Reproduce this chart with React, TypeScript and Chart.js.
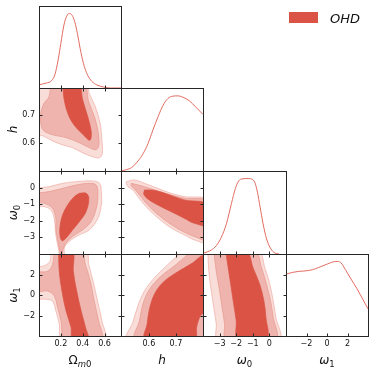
import React, { useEffect, useRef } from 'react';
import { Chart, registerables } from 'chart.js';

Chart.register(...registerables);

type Pt = [number, number];

// ---------- axes ----------
const OM_RANGE = [0, 0.75];
const H_RANGE = [0.497, 0.8];
const W0_RANGE = [-4, 1];
const W1_RANGE = [-4, 4];
const DENSITY_RANGE = [0, 1.1];

const OM_TICKS = [0.2, 0.4, 0.6];
const H_TICKS = [0.6, 0.7];
const W0_TICKS = [-3, -2, -1, 0];
const W1_TICKS = [-2, 0, 2];

const LEGEND_LABEL = 'OHD';

// ---------- 1D marginals (normalised density) ----------
const OM_1D: Pt[] = [[0.0, 0.044], [0.068, 0.067], [0.114, 0.097], [0.145, 0.177], [0.175, 0.377], [0.2, 0.6], [0.228, 0.844], [0.253, 0.964], [0.277, 1.0], [0.302, 0.977], [0.327, 0.888], [0.351, 0.733], [0.376, 0.533], [0.406, 0.333], [0.443, 0.177], [0.484, 0.088], [0.53, 0.04], [0.591, 0.013], [0.653, 0.0], [0.75, 0.0]];
const H_1D: Pt[] = [[0.497, 0.0], [0.518, 0.019], [0.536, 0.045], [0.56, 0.133], [0.579, 0.232], [0.597, 0.365], [0.615, 0.543], [0.634, 0.72], [0.652, 0.867], [0.67, 0.96], [0.689, 0.992], [0.707, 0.996], [0.725, 0.979], [0.75, 0.929], [0.774, 0.845], [0.8, 0.75]];
const W0_1D: Pt[] = [[-4.0, 0.008], [-3.5, 0.053], [-3.2, 0.11], [-2.9, 0.22], [-2.59, 0.4], [-2.29, 0.667], [-2.05, 0.867], [-1.85, 0.968], [-1.65, 0.995], [-1.28, 1.0], [-1.04, 0.99], [-0.88, 0.95], [-0.72, 0.82], [-0.56, 0.62], [-0.38, 0.4], [-0.17, 0.2], [0.09, 0.067], [0.33, 0.013], [0.58, 0.0]];
const W1_1D: Pt[] = [[-4.0, 0.83], [-3.38, 0.853], [-2.74, 0.867], [-1.93, 0.876], [-1.44, 0.889], [-0.8, 0.92], [0.02, 0.965], [0.66, 0.996], [1.05, 1.0], [1.38, 0.979], [1.8, 0.889], [2.28, 0.779], [2.93, 0.632], [3.51, 0.489], [4.0, 0.365]];

// ---------- 2D contours (inner, middle, outer) ----------
const OM_H_1: Pt[] = [[0.214, 0.83], [0.357, 0.83], [0.40, 0.756], [0.447, 0.694], [0.477, 0.644], [0.475, 0.615], [0.462, 0.609], [0.44, 0.615], [0.416, 0.625], [0.339, 0.656], [0.277, 0.694], [0.231, 0.756]];
const OM_H_2: Pt[] = [[0.108, 0.83], [0.092, 0.769], [0.046, 0.744], [0.016, 0.706], [0.031, 0.65], [0.108, 0.631], [0.247, 0.619], [0.369, 0.6], [0.462, 0.582], [0.524, 0.575], [0.548, 0.594], [0.539, 0.644], [0.508, 0.694], [0.455, 0.75], [0.40, 0.83]];
const OM_H_3: Pt[] = [[-0.02, 0.83], [-0.02, 0.631], [0.037, 0.625], [0.129, 0.606], [0.219, 0.592], [0.308, 0.582], [0.401, 0.563], [0.493, 0.549], [0.551, 0.545], [0.579, 0.56], [0.575, 0.613], [0.56, 0.669], [0.514, 0.733], [0.459, 0.781], [0.43, 0.83]];

const OM_W0_1: Pt[] = [[0.37, -0.342], [0.431, -0.342], [0.456, -0.642], [0.431, -1.442], [0.37, -2.042], [0.308, -2.542], [0.247, -3.042], [0.21, -3.202], [0.191, -2.842], [0.194, -2.242], [0.216, -1.642], [0.262, -1.042], [0.324, -0.542]];
const OM_W0_2: Pt[] = [[-0.03, -0.34], [0.093, -0.242], [0.216, -0.042], [0.339, 0.158], [0.462, 0.258], [0.524, 0.158], [0.539, -0.442], [0.524, -1.242], [0.477, -2.042], [0.4, -2.542], [0.308, -2.942], [0.247, -3.342], [0.216, -3.842], [0.215, -4.3], [0.198, -4.3], [0.19, -3.842], [0.17, -3.142], [0.154, -2.442], [0.154, -1.842], [0.123, -1.242], [0.047, -0.942], [-0.03, -0.84]];
const OM_W0_3: Pt[] = [[-0.03, -0.04], [0.093, 0.058], [0.216, 0.258], [0.339, 0.358], [0.493, 0.398], [0.554, 0.258], [0.57, -0.242], [0.57, -1.042], [0.539, -1.842], [0.462, -2.542], [0.37, -2.842], [0.277, -3.242], [0.231, -3.642], [0.235, -4.3], [0.19, -4.3], [0.185, -3.942], [0.17, -3.442], [0.154, -2.842], [0.139, -1.842], [0.108, -1.342], [0.047, -1.142], [-0.03, -1.08]];

const H_W0_1: Pt[] = [[0.5837, -0.142], [0.6203, -0.162], [0.6692, -0.402], [0.7302, -0.742], [0.82, -1.02], [0.82, -2.242], [0.7668, -2.142], [0.7302, -1.842], [0.6814, -1.442], [0.6325, -1.042], [0.5959, -0.682], [0.5812, -0.402]];
const H_W0_2: Pt[] = [[0.5348, 0.258], [0.5837, 0.058], [0.6325, -0.202], [0.6814, -0.442], [0.7302, -0.642], [0.82, -0.86], [0.82, -3.142], [0.7668, -2.942], [0.7302, -2.682], [0.6936, -2.342], [0.657, -1.942], [0.6203, -1.442], [0.5898, -0.942], [0.5654, -0.442], [0.547, -0.082], [0.5348, 0.118]];
const H_W0_3: Pt[] = [[0.5165, 0.358], [0.547, 0.458], [0.5837, 0.258], [0.6325, -0.042], [0.6814, -0.342], [0.7302, -0.542], [0.82, -0.78], [0.82, -3.282], [0.7668, -3.142], [0.7302, -2.842], [0.6936, -2.542], [0.657, -2.142], [0.6203, -1.642], [0.5837, -1.042], [0.5593, -0.542], [0.541, -0.142], [0.5226, 0.058], [0.5165, 0.258]];

const OM_W1_1: Pt[] = [[0.179, 4.3], [0.185, 2.31], [0.21, 0.385], [0.247, -1.538], [0.293, -3.14], [0.308, -4.3], [0.447, -4.3], [0.425, -3.14], [0.385, -1.538], [0.345, 0.385], [0.314, 2.31], [0.308, 4.3]];
const OM_W1_2: Pt[] = [[0.139, 4.3], [0.123, 2.95], [0.077, 2.31], [-0.03, 2.15], [-0.03, 0.385], [0.077, 0.385], [0.139, -0.096], [0.17, -1.218], [0.2, -2.5], [0.24, -4.3], [0.57, -4.3], [0.545, -2.5], [0.505, -0.577], [0.47, 1.35], [0.425, 2.95], [0.385, 4.3]];
const OM_W1_3: Pt[] = [[0.108, 4.3], [0.099, 3.27], [0.031, 2.79], [-0.03, 2.79], [-0.03, -0.256], [0.062, -0.417], [0.123, -0.577], [0.154, -1.538], [0.185, -2.82], [0.21, -4.3], [0.6, -4.3], [0.575, -2.5], [0.535, -0.577], [0.495, 1.35], [0.455, 2.95], [0.43, 4.3]];

const H_W1_1: Pt[] = [[0.82, 3.9], [0.797, 3.85], [0.7607, 3.11], [0.6997, 2.15], [0.6508, 1.19], [0.6203, 0.064], [0.602, -1.38], [0.5935, -2.82], [0.586, -4.3], [0.7693, -4.3], [0.7766, -3.14], [0.785, -2.34], [0.797, -1.86], [0.82, -1.86]];
const H_W1_2: Pt[] = [[0.758, 4.3], [0.6997, 2.95], [0.6447, 1.83], [0.602, 0.545], [0.5776, -0.9], [0.5654, -2.5], [0.55, -4.3], [0.82, -4.3], [0.82, 4.3]];
const H_W1_3: Pt[] = [[0.725, 4.3], [0.6692, 2.95], [0.6203, 1.67], [0.5837, 0.385], [0.5593, -1.06], [0.541, -2.66], [0.52, -4.3], [0.82, -4.3], [0.82, 4.3]];

const W0_W1_1: Pt[] = [[-2.64, 4.3], [-2.45, 2.31], [-2.3, 0.71], [-2.15, -0.9], [-2.0, -2.5], [-1.9, -4.3], [-0.17, -4.3], [-0.21, -2.18], [-0.33, -0.577], [-0.58, 1.03], [-0.98, 2.63], [-1.38, 4.3]];
const W0_W1_2: Pt[] = [[-3.36, 4.3], [-3.2, 2.31], [-3.0, 0.385], [-2.85, -1.218], [-2.7, -2.82], [-2.6, -4.3], [0.39, -4.3], [0.23, -2.18], [0.07, -0.577], [-0.17, 1.03], [-0.47, 2.63], [-0.88, 4.3]];
const W0_W1_3: Pt[] = [[-3.71, 4.3], [-3.65, 2.31], [-3.5, 0.385], [-3.35, -1.218], [-3.2, -2.82], [-3.1, -4.3], [0.59, -4.3], [0.39, -2.18], [0.23, -0.577], [0.03, 1.03], [-0.27, 2.63], [-0.68, 4.3]];

// ---------- styling / layout ----------
const COLS = [39, 121, 203, 286, 368];
const ROWS = [6, 88, 171, 254, 336];
const W = 374;
const H = 373;
const DARK = 'rgb(218, 83, 69)';
const MID = 'rgb(238, 180, 173)';
const LIGHT = 'rgb(248, 221, 217)';
const MID_EDGE = 'rgb(232, 152, 142)';
const LIGHT_EDGE = 'rgb(240, 172, 163)';
const CURVE = 'rgb(226, 108, 96)';
const FRAME = '#262626';
const TEXT = '#111';
const TICK_LEN = 3;

type Part = { t: string; it?: boolean; sub?: boolean };
const TITLES: Record<string, Part[]> = {
  om: [{ t: 'Ω' }, { t: 'm', it: true, sub: true }, { t: '0', sub: true }],
  h: [{ t: 'h', it: true }],
  w0: [{ t: 'ω', it: true }, { t: '0', sub: true }],
  w1: [{ t: 'ω', it: true }, { t: '1', sub: true }],
};

const PARAMS = [
  { key: 'om', range: OM_RANGE, ticks: OM_TICKS, curve: OM_1D },
  { key: 'h', range: H_RANGE, ticks: H_TICKS, curve: H_1D },
  { key: 'w0', range: W0_RANGE, ticks: W0_TICKS, curve: W0_1D },
  { key: 'w1', range: W1_RANGE, ticks: W1_TICKS, curve: W1_1D },
];

const CONTOURS: Record<string, Pt[][]> = {
  '1-0': [OM_H_1, OM_H_2, OM_H_3],
  '2-0': [OM_W0_1, OM_W0_2, OM_W0_3],
  '2-1': [H_W0_1, H_W0_2, H_W0_3],
  '3-0': [OM_W1_1, OM_W1_2, OM_W1_3],
  '3-1': [H_W1_1, H_W1_2, H_W1_3],
  '3-2': [W0_W1_1, W0_W1_2, W0_W1_3],
};

const fmt = (v: number) => (v < 0 ? '\u2212' : '') + String(Math.abs(Math.round(v * 1000) / 1000));

function drawMath(ctx: CanvasRenderingContext2D, key: string, x: number, y: number, rotate: boolean) {
  const parts = TITLES[key];
  const fontOf = (p: Part) => `${p.it ? 'italic ' : ''}${p.sub ? 8.5 : 12}px "DejaVu Sans"`;
  ctx.save();
  ctx.translate(x, y);
  if (rotate) ctx.rotate(-Math.PI / 2);
  ctx.fillStyle = TEXT;
  ctx.textAlign = 'left';
  ctx.textBaseline = 'alphabetic';
  let w = 0;
  for (const p of parts) { ctx.font = fontOf(p); w += ctx.measureText(p.t).width; }
  let cx = -w / 2;
  for (const p of parts) {
    ctx.font = fontOf(p);
    ctx.fillText(p.t, cx, p.sub ? 3 : 0);
    cx += ctx.measureText(p.t).width;
  }
  ctx.restore();
}

const framePlugin = {
  id: 'cornerFrame',
  afterDraw(chart: any, _a: any, opts: any) {
    const { ctx, chartArea: a, scales } = chart;
    const xs = scales.x, ys = scales.y;
    const L = Math.round(a.left) + 0.5, R = Math.round(a.right) + 0.5;
    const T = Math.round(a.top) + 0.5, B = Math.round(a.bottom) + 0.5;
    ctx.save();
    ctx.strokeStyle = FRAME;
    ctx.lineWidth = 1;
    ctx.beginPath();
    for (const t of xs.ticks) {
      const p = Math.round(xs.getPixelForValue(t.value)) + 0.5;
      ctx.moveTo(p, B); ctx.lineTo(p, B - TICK_LEN);
      if (opts.twoD) { ctx.moveTo(p, T); ctx.lineTo(p, T + TICK_LEN); }
    }
    if (opts.twoD) {
      for (const t of ys.ticks) {
        const p = Math.round(ys.getPixelForValue(t.value)) + 0.5;
        ctx.moveTo(L, p); ctx.lineTo(L + TICK_LEN, p);
        ctx.moveTo(R, p); ctx.lineTo(R - TICK_LEN, p);
      }
    }
    ctx.stroke();
    ctx.strokeRect(L, T, R - L, B - T);
    ctx.restore();
  },
};

const titlePlugin = {
  id: 'cornerTitles',
  afterDraw(chart: any, _a: any, opts: any) {
    const { ctx, chartArea: a } = chart;
    if (opts.bottom) drawMath(ctx, opts.bottom, (a.left + a.right) / 2, 364, false);
    if (opts.left) drawMath(ctx, opts.left, 16.5, (a.top + a.bottom) / 2, true);
    if (opts.legend) {
      ctx.save();
      ctx.fillStyle = DARK;
      ctx.fillRect(289, 12, 29, 11);
      ctx.fillStyle = TEXT;
      ctx.font = 'italic 13px "DejaVu Sans"';
      ctx.textBaseline = 'alphabetic';
      ctx.textAlign = 'left';
      ctx.fillText(LEGEND_LABEL, 330, 22.5);
      ctx.restore();
    }
  },
};

// size: thickness of the axis box (labels are clipped to it by Chart.js)
function axis(range: number[], ticks: number[], showLabels: boolean, horizontal: boolean, size: number) {
  return {
    type: 'linear',
    min: range[0],
    max: range[1],
    bounds: 'data',
    display: true,
    grid: { display: false, drawTicks: false },
    border: { display: false },
    ticks: {
      display: showLabels,
      padding: horizontal ? 3 : 4,
      color: TEXT,
      font: { family: 'DejaVu Sans', size: 8 },
      autoSkip: false,
      maxRotation: 0,
      minRotation: 0,
      callback: (v: number) => fmt(v),
    },
    afterBuildTicks: (s: any) => { s.ticks = ticks.map((v) => ({ value: v })); },
    afterFit: (s: any) => { if (horizontal) s.height = size; else s.width = size; },
  };
}

function buildConfig(row: number, col: number): any {
  const left = COLS[col], right = COLS[col + 1], top = ROWS[row], bottom = ROWS[row + 1];
  const px = PARAMS[col];
  const twoD = row !== col;
  const yLabels = twoD && col === 0;
  const xLabels = row === 3;
  const datasets: any[] = [];
  if (twoD) {
    const [c1, c2, c3] = CONTOURS[`${row}-${col}`];
    const styles = [[c1, DARK, DARK], [c2, MID, MID_EDGE], [c3, LIGHT, LIGHT_EDGE]] as const;
    for (const [pts, fillC, edge] of styles) {
      datasets.push({
        data: [...pts, pts[0]].map(([x, y]) => ({ x, y })),
        backgroundColor: fillC,
        borderColor: edge,
        borderWidth: 0.7,
        fill: 'shape',
        tension: 0.35,
        capBezierPoints: false,
        pointRadius: 0,
        pointHoverRadius: 0,
        clip: 0,
      });
    }
  } else {
    datasets.push({
      data: px.curve.map(([x, y]) => ({ x, y })),
      borderColor: CURVE,
      borderWidth: 1,
      fill: false,
      cubicInterpolationMode: 'monotone',
      pointRadius: 0,
      pointHoverRadius: 0,
      clip: 0,
    });
  }
  const py = twoD ? PARAMS[row] : null;
  return {
    type: 'line',
    data: { datasets },
    options: {
      animation: false,
      responsive: false,
      maintainAspectRatio: false,
      events: [],
      layout: {
        padding: {
          left: yLabels ? 0 : left,
          top,
          right: W - right,
          bottom: xLabels ? 0 : H - bottom,
        },
      },
      plugins: {
        legend: { display: false },
        tooltip: { enabled: false },
        cornerFrame: { twoD },
        cornerTitles: {
          bottom: row === 3 ? px.key : '',
          left: col === 0 && row > 0 ? PARAMS[row].key : '',
          legend: row === 0 && col === 0,
        },
      },
      scales: {
        x: axis(px.range, px.ticks, xLabels, true, xLabels ? H - bottom : 0),
        y: twoD && py
          ? axis(py.range, py.ticks, yLabels, false, yLabels ? left : 0)
          : { ...axis(DENSITY_RANGE, [], false, false, 0), display: false },
      },
    },
    plugins: [framePlugin, titlePlugin],
  };
}

function Panel({ row, col }: { row: number; col: number }) {
  const ref = useRef<HTMLCanvasElement>(null);
  useEffect(() => {
    const chart = new Chart(ref.current as HTMLCanvasElement, buildConfig(row, col));
    return () => chart.destroy();
  }, [row, col]);
  return (
    <canvas
      ref={ref}
      width={W}
      height={H}
      style={{ position: 'absolute', left: 0, top: 0, width: W, height: H }}
    />
  );
}

export default function App() {
  const cells: { row: number; col: number }[] = [];
  for (let r = 0; r < 4; r++) for (let c = 0; c <= r; c++) cells.push({ row: r, col: c });
  return (
    <div style={{ position: 'absolute', left: 0, top: 0, width: W, height: H, background: '#fff' }}>
      {cells.map((p) => <Panel key={`${p.row}-${p.col}`} row={p.row} col={p.col} />)}
    </div>
  );
}
